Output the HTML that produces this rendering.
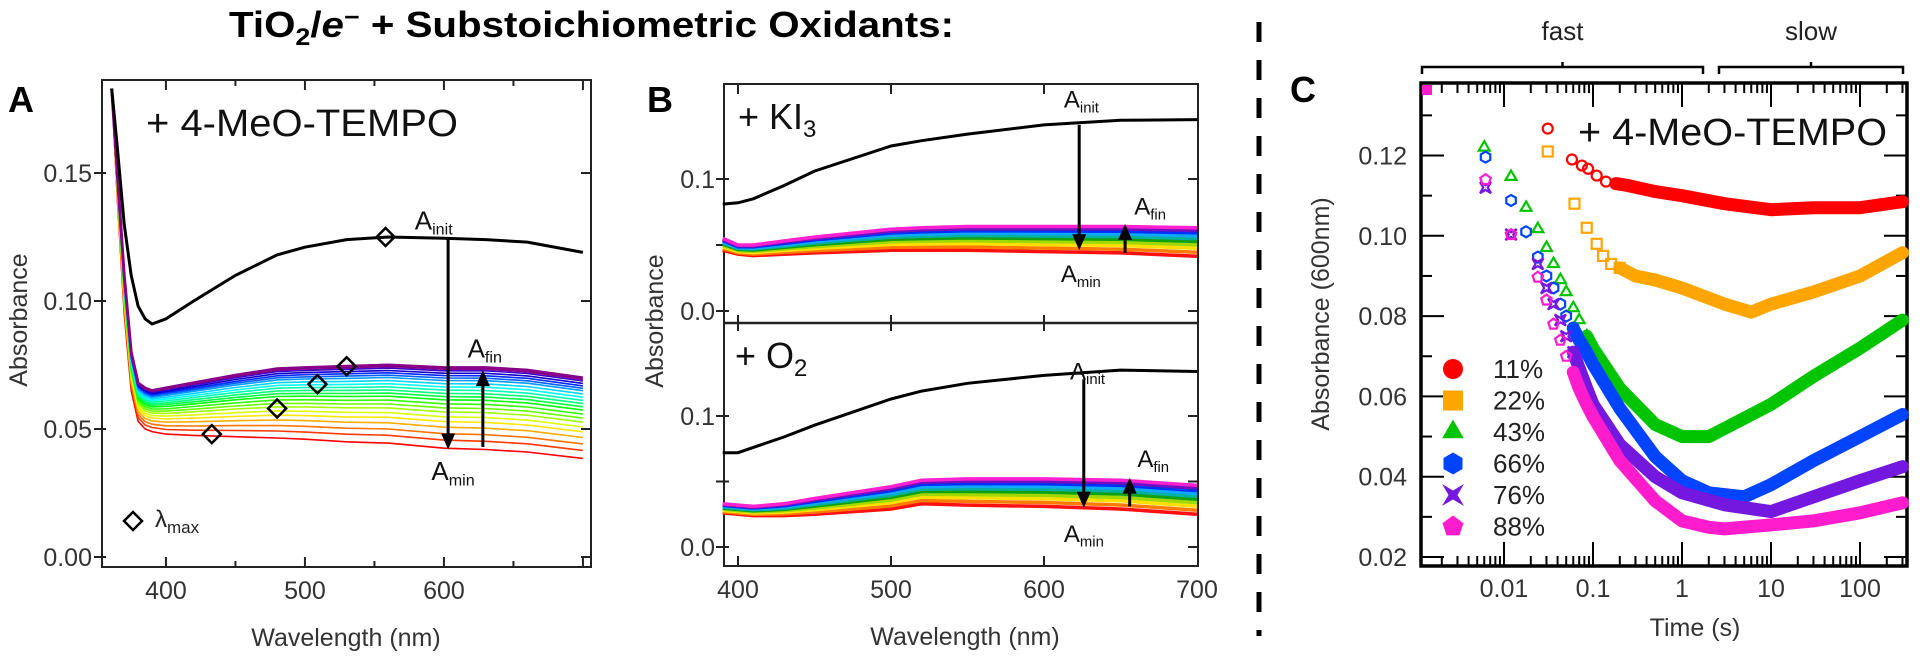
<!DOCTYPE html>
<html><head><meta charset="utf-8"><style>
html,body{margin:0;padding:0;background:#fff;}
svg{display:block;font-family:"Liberation Sans",Arial,sans-serif;}
</style></head><body>
<svg id="fig" width="1920" height="664" viewBox="0 0 1920 664" xmlns="http://www.w3.org/2000/svg">
<text x="229" y="37" font-size="36" font-weight="bold" textLength="725" lengthAdjust="spacingAndGlyphs" font-family="'Liberation Sans Narrow','Liberation Sans',sans-serif">TiO<tspan font-size="24" dy="8">2</tspan><tspan dy="-8">/</tspan><tspan font-style="italic">e</tspan><tspan font-size="24" dy="-12">−</tspan><tspan dy="12"> + Substoichiometric Oxidants:</tspan></text>
<line x1="1259" y1="22" x2="1259" y2="636" stroke="#000" stroke-width="5" stroke-dasharray="20 18"/>
<g id="gA"></g>
<g id="gB"></g>
<g id="gC"></g>
</svg>
<script>
// ---------- Panel A data ----------
const waveA = [361,365,370,375,380,385,390,400,420,450,480,500,530,560,600,630,660,700];
const blackA = [0.183,0.160,0.130,0.110,0.098,0.093,0.091,0.093,0.100,0.110,0.118,0.121,0.124,0.125,0.1245,0.124,0.123,0.119];
const topA = [0.183,0.150,0.110,0.080,0.068,0.066,0.065,0.066,0.068,0.071,0.0735,0.074,0.0745,0.075,0.074,0.074,0.073,0.070];
const botA = [0.183,0.140,0.095,0.065,0.053,0.050,0.049,0.048,0.0475,0.047,0.0465,0.046,0.045,0.0445,0.0425,0.042,0.041,0.0385];
const levelsA = [0,0.1,0.18,0.26,0.33,0.39,0.45,0.5,0.55,0.6,0.64,0.68,0.72,0.76,0.8,0.84,0.87,0.9,0.93,0.96,0.98,1];
const diamondWaveA = [558,530,509,480,433];
const diamondValA = [0.125,0.0745,0.0675,0.058,0.048];
// ---------- Panel B data ----------
const waveB = [390,400,410,430,450,500,520,550,600,650,700];
const blackB1 = [0.081,0.082,0.085,0.095,0.106,0.125,0.129,0.134,0.141,0.1445,0.145];
const topB1 = [0.055,0.050,0.050,0.053,0.056,0.062,0.063,0.064,0.064,0.064,0.063];
const botB1 = [0.046,0.043,0.042,0.043,0.044,0.046,0.046,0.046,0.045,0.044,0.0415];
const blackB2 = [0.072,0.072,0.076,0.084,0.093,0.113,0.119,0.125,0.131,0.135,0.134];
const topB2 = [0.033,0.032,0.031,0.033,0.037,0.046,0.051,0.052,0.052,0.051,0.047];
const botB2 = [0.026,0.025,0.024,0.024,0.025,0.029,0.033,0.032,0.031,0.029,0.025];
const levelsB = [0,0.14,0.28,0.4,0.52,0.62,0.72,0.82,0.91,1];
// ---------- Panel C data ----------
const seriesNames = ["11%","22%","43%","66%","76%","88%"];
const tRed = [0.031,0.058,0.075,0.088,0.11,0.14,0.18,0.25,0.5,1,3,10,30,100,300];
const vRed = [0.1267,0.119,0.1175,0.1167,0.115,0.1135,0.113,0.1125,0.111,0.110,0.108,0.1065,0.107,0.107,0.1085];
const tOrange = [0.031,0.062,0.085,0.11,0.13,0.16,0.2,0.3,0.5,1,3,6,10,30,100,300];
const vOrange = [0.121,0.108,0.102,0.098,0.095,0.093,0.092,0.090,0.089,0.087,0.083,0.081,0.083,0.086,0.090,0.0958];
const tGreen = [0.006,0.012,0.0177,0.024,0.03,0.036,0.043,0.05,0.06,0.07,0.085,0.1,0.2,0.5,1,2,3,10,30,100,300];
const vGreen = [0.122,0.1147,0.107,0.1017,0.097,0.093,0.089,0.086,0.082,0.079,0.075,0.072,0.062,0.053,0.050,0.050,0.052,0.058,0.065,0.072,0.079];
const tBlue = [0.0062,0.012,0.0177,0.024,0.03,0.036,0.043,0.05,0.06,0.07,0.085,0.1,0.2,0.5,1,2,5,10,30,100,300];
const vBlue = [0.1196,0.1088,0.101,0.0947,0.090,0.087,0.083,0.080,0.077,0.074,0.071,0.068,0.057,0.045,0.039,0.036,0.035,0.038,0.044,0.050,0.0555];
const tPurple = [0.0062,0.012,0.024,0.03,0.036,0.043,0.05,0.06,0.07,0.085,0.1,0.2,0.5,1,3,10,30,100,300];
const vPurple = [0.112,0.1003,0.093,0.087,0.083,0.079,0.075,0.071,0.067,0.062,0.058,0.048,0.040,0.036,0.033,0.0313,0.035,0.039,0.0425];
const tMagenta = [0.0062,0.012,0.024,0.03,0.036,0.043,0.05,0.06,0.07,0.085,0.1,0.2,0.5,1,2,3,10,30,100,300];
const vMagenta = [0.114,0.1003,0.0897,0.084,0.078,0.074,0.070,0.066,0.062,0.058,0.055,0.044,0.034,0.029,0.0274,0.027,0.028,0.029,0.031,0.0335];
const yTicksC = [0.02,0.04,0.06,0.08,0.10,0.12];
const xTicksC = [0.01,0.1,1,10,100];
const xTickLabelsC = ["0.01","0.1","1","10","100"];

const NS = "http://www.w3.org/2000/svg";
function mk(tag, attrs, parent){const e=document.createElementNS(NS,tag);for(const k in attrs)e.setAttribute(k,attrs[k]);parent.appendChild(e);return e;}
function pts(xs,ys,fx,fy){return xs.map((x,i)=>fx(x).toFixed(1)+","+fy(ys[i]).toFixed(1)).join(" ");}
function mix(a,b,f){return a.map((v,i)=>v+(b[i]-v)*f);}

// ---------- Panel A ----------
const gA=document.getElementById("gA");
const xA=w=>102+(w-354)*1.39, yA=v=>557-v*2560;
let e;
e=mk("rect",{x:102,y:80,width:489,height:487,fill:"none",stroke:"#222","stroke-width":2},gA);


[400,450,500,550,600,650,700].forEach(w=>{
 const L=(w%100===0)?10:6;
 e=mk("line",{x1:xA(w),y1:567,x2:xA(w),y2:567-L,stroke:"#222","stroke-width":2},gA);
 
 
 e=mk("line",{x1:xA(w),y1:80,x2:xA(w),y2:80+L,stroke:"#222","stroke-width":2},gA);
 
 
});
[400,500,600].forEach(w=>{
 e=mk("text",{x:xA(w),y:599,"font-size":25,"text-anchor":"middle",fill:"#333"},gA);e.textContent=w;
 
 
});
[0,0.05,0.10,0.15].forEach(v=>{
 e=mk("line",{x1:94,y1:yA(v),x2:106,y2:yA(v),stroke:"#222","stroke-width":2},gA);
 
 
 e=mk("line",{x1:581,y1:yA(v),x2:591,y2:yA(v),stroke:"#222","stroke-width":2},gA);
 
 
 e=mk("text",{x:92,y:yA(v)+9,"font-size":25,"text-anchor":"end",fill:"#333"},gA);e.textContent=v.toFixed(2);
 
 
});
e=mk("text",{x:346,y:646,"font-size":25,"text-anchor":"middle",fill:"#333"},gA);e.textContent="Wavelength (nm)";


e=mk("text",{x:0,y:0,"font-size":25,"text-anchor":"middle",fill:"#333",transform:"translate(27,320) rotate(-90)"},gA);e.textContent="Absorbance";


e=mk("text",{x:8,y:112,"font-size":36,"font-weight":"bold"},gA);e.textContent="A";


levelsA.forEach((f,i)=>{
 const n=levelsA.length-1;const h=(i/n)*285;
 const col=i>=n-1?"#880088":`hsl(${h},100%,${i>n-4?40:50}%)`;
 e=mk("polyline",{points:pts(waveA,mix(botA,topA,f),xA,yA),fill:"none",stroke:col,"stroke-width":i===n?3:1.6},gA);
 
 
});
e=mk("polyline",{points:pts(waveA,blackA,xA,yA),fill:"none",stroke:"#000","stroke-width":3},gA);


diamondWaveA.forEach((w,i)=>{
 const cx=xA(w),cy=yA(diamondValA[i]);
 e=mk("polygon",{points:`${cx},${cy-9} ${cx+9},${cy} ${cx},${cy+9} ${cx-9},${cy}`,fill:"none",stroke:"#000","stroke-width":2.5},gA);
 
 
});
function arrow(g,x,y1,y2,name){
 const dir=y2>y1?1:-1;
 e=mk("line",{x1:x,y1:y1,x2:x,y2:y2-dir*14,stroke:"#000","stroke-width":3},g);
 
 
 e=mk("polygon",{points:`${x-7},${y2-dir*16} ${x+7},${y2-dir*16} ${x},${y2}`,fill:"#000"},g);
 
 
}
arrow(gA,xA(603),yA(0.124),yA(0.042),'a-down-arrow');
arrow(gA,xA(628),yA(0.043),yA(0.073),'a-up-arrow');
function alabel(g,x,y,sub,name,fs){
 e=mk("text",{x:x,y:y,"font-size":fs,fill:"#111"},g);
 e.innerHTML=`A<tspan font-size="${fs*0.62}" dy="${fs*0.2}">${sub}</tspan>`;
 
 
}
alabel(gA,xA(579),yA(0.128),"init","a-a-init-label",26);
alabel(gA,xA(617),yA(0.078),"fin","a-a-fin-label",26);
alabel(gA,xA(591),yA(0.030),"min","a-a-min-label",26);
e=mk("text",{x:146,y:136,"font-size":38,fill:"#111",textLength:312,lengthAdjust:"spacingAndGlyphs"},gA);e.textContent="+ 4-MeO-TEMPO";


e=mk("polygon",{points:"133,512 142,521 133,530 124,521",fill:"none",stroke:"#000","stroke-width":2.5},gA);


e=mk("text",{x:155,y:527,"font-size":24,fill:"#222"},gA);e.innerHTML='λ<tspan font-size="17" dy="6">max</tspan>';



// ---------- Panel B ----------
const gB=document.getElementById("gB");
const xB=w=>738+(w-400)*1.53;
const yB1=v=>311-v*1320, yB2=v=>547-v*1310;
e=mk("rect",{x:724,y:84,width:474,height:482,fill:"none",stroke:"#222","stroke-width":2},gB);


e=mk("line",{x1:724,y1:323,x2:1198,y2:323,stroke:"#222","stroke-width":2.5},gB);


[400,500,600].forEach(w=>{
 [[566,-10],[84,10],[323,-8],[323,8]].forEach(([y,d])=>{
  e=mk("line",{x1:xB(w),y1:y,x2:xB(w),y2:y+d,stroke:"#222","stroke-width":2},gB);
  
  
 });
});
[400,500,600,700].forEach(w=>{
 e=mk("text",{x:xB(w),y:598,"font-size":25,"text-anchor":"middle",fill:"#333"},gB);e.textContent=w;
 
 
});
[[yB1,"top"],[yB2,"bottom"]].forEach(([fy,nm])=>{
 [0,0.05,0.1].forEach(v=>{
  e=mk("line",{x1:716,y1:fy(v),x2:729,y2:fy(v),stroke:"#222","stroke-width":2},gB);
  
  
  e=mk("line",{x1:1188,y1:fy(v),x2:1198,y2:fy(v),stroke:"#222","stroke-width":2},gB);
  
  
 });
 [0,0.1].forEach(v=>{
  e=mk("text",{x:715,y:fy(v)+9,"font-size":25,"text-anchor":"end",fill:"#333"},gB);e.textContent=v.toFixed(1);
  
  
 });
});
e=mk("text",{x:965,y:645,"font-size":25,"text-anchor":"middle",fill:"#333"},gB);e.textContent="Wavelength (nm)";


e=mk("text",{x:0,y:0,"font-size":25,"text-anchor":"middle",fill:"#333",transform:"translate(663,321) rotate(-90)"},gB);e.textContent="Absorbance";


e=mk("text",{x:647,y:112,"font-size":36,"font-weight":"bold"},gB);e.textContent="B";


const colsB=["#ff1010","#ff7a00","#ffe000","#a0d800","#10a010","#00b0a0","#10a8ff","#0030ff","#7010c0","#ff20d0"];
[[topB1,botB1,blackB1,yB1,"top"],[topB2,botB2,blackB2,yB2,"bottom"]].forEach(([tp,bt,bk,fy,nm])=>{
 levelsB.forEach((f,i)=>{
  e=mk("polyline",{points:pts(waveB,mix(bt,tp,f),xB,fy),fill:"none",stroke:colsB[i],"stroke-width":3.5},gB);
  
  
 });
 e=mk("polyline",{points:pts(waveB,bk,xB,fy),fill:"none",stroke:"#000","stroke-width":3},gB);
 
 
});
arrow(gB,xB(623),yB1(0.141),yB1(0.046),'b-top-down-arrow');
arrow(gB,xB(653),yB1(0.044),yB1(0.066),'b-top-up-arrow');
arrow(gB,xB(626),yB2(0.128),yB2(0.030),'b-bottom-down-arrow');
arrow(gB,xB(656),yB2(0.031),yB2(0.053),'b-bottom-up-arrow');
alabel(gB,xB(613),yB1(0.154),"init","b-top-a-init-label",24);
alabel(gB,xB(659),yB1(0.073),"fin","b-top-a-fin-label",24);
alabel(gB,xB(611),yB1(0.022),"min","b-top-a-min-label",24);
alabel(gB,xB(617),yB2(0.128),"init","b-bottom-a-init-label",24);
alabel(gB,xB(661),yB2(0.061),"fin","b-bottom-a-fin-label",24);
alabel(gB,xB(613),yB2(0.004),"min","b-bottom-a-min-label",24);
e=mk("text",{x:738,y:129,"font-size":36,fill:"#111"},gB);e.innerHTML='+ KI<tspan font-size="24" dy="8">3</tspan>';


e=mk("text",{x:735,y:368,"font-size":36,fill:"#111"},gB);e.innerHTML='+ O<tspan font-size="24" dy="8">2</tspan>';



// ---------- Panel C ----------
const gC=document.getElementById("gC");
const xC=t=>1682+Math.log10(t)*89, yC=v=>557-(v-0.02)*4015;
const L=1421,R=1907,T=83,B=566;
e=mk("rect",{x:L,y:T,width:R-L,height:B-T,fill:"none",stroke:"#000","stroke-width":3.5},gC);


for(let d=-3;d<=2;d++){for(let m=1;m<=9;m++){
 const t=m*Math.pow(10,d), x=xC(t); if(x<=L+2||x>=R-2) continue;
 const len=m===1?24:10;
 e=mk("line",{x1:x,y1:B,x2:x,y2:B-len,stroke:"#000","stroke-width":2},gC);
 
 
 e=mk("line",{x1:x,y1:T,x2:x,y2:T+len,stroke:"#000","stroke-width":2},gC);
 
 
}}
xTicksC.forEach((t,i)=>{
 e=mk("text",{x:xC(t),y:597,"font-size":25,"text-anchor":"middle",fill:"#333"},gC);e.textContent=xTickLabelsC[i];
 
 
});
for(let k=2;k<=13;k++){
 const v=k/100, y=yC(v), len=k%2===0?23:11;
 e=mk("line",{x1:L,y1:y,x2:L+len,y2:y,stroke:"#000","stroke-width":2},gC);
 
 
 e=mk("line",{x1:R,y1:y,x2:R-len,y2:y,stroke:"#000","stroke-width":2},gC);
 
 
}
yTicksC.forEach(v=>{
 e=mk("text",{x:1407,y:yC(v)+9,"font-size":25,"text-anchor":"end",fill:"#333"},gC);e.textContent=v.toFixed(2);
 
 
});
e=mk("text",{x:1695,y:636,"font-size":25,"text-anchor":"middle",fill:"#333"},gC);e.textContent="Time (s)";


e=mk("text",{x:0,y:0,"font-size":25,"text-anchor":"middle",fill:"#333",transform:"translate(1329,314) rotate(-90)"},gC);e.textContent="Absorbance (600nm)";


e=mk("text",{x:1290,y:102,"font-size":36,"font-weight":"bold"},gC);e.textContent="C";


[[1422,1703,"fast","fast-bracket"],[1719,1903,"slow","slow-bracket"]].forEach(([a,b,txt,nm])=>{
 e=mk("path",{d:`M${a},74 L${a},67 L${b},67 L${b},74 M${(a+b)/2},67 L${(a+b)/2},62`,fill:"none",stroke:"#000","stroke-width":2.5},gC);
 
 
 e=mk("text",{x:(a+b)/2,y:40,"font-size":26,"text-anchor":"middle",fill:"#222"},gC);e.textContent=txt;
 
 
});
e=mk("text",{x:1578,y:145,"font-size":38,fill:"#111",textLength:309,lengthAdjust:"spacingAndGlyphs"},gC);e.textContent="+ 4-MeO-TEMPO";


function shape(g,kind,cx,cy,r,col,filled,name){
 let el;
 const fill=filled?col:"none", sw=filled?0:2.2;
 const poly=(n,rot,rr)=>{let p=[];for(let i=0;i<n;i++){const a=rot+i*2*Math.PI/n;p.push((cx+rr*Math.cos(a)).toFixed(1)+","+(cy+rr*Math.sin(a)).toFixed(1));}return p.join(" ");};
 if(kind==="circle") el=mk("circle",{cx:cx,cy:cy,r:r,fill:fill,stroke:col,"stroke-width":sw},g);
 else if(kind==="square") el=mk("rect",{x:cx-r,y:cy-r,width:2*r,height:2*r,fill:fill,stroke:col,"stroke-width":sw},g);
 else if(kind==="triangle") el=mk("polygon",{points:poly(3,-Math.PI/2,r*1.25),fill:fill,stroke:col,"stroke-width":sw},g);
 else if(kind==="hexagon") el=mk("polygon",{points:poly(6,-Math.PI/2,r*1.1),fill:fill,stroke:col,"stroke-width":sw},g);
 else if(kind==="pentagon") el=mk("polygon",{points:poly(5,-Math.PI/2,r*1.1),fill:fill,stroke:col,"stroke-width":sw},g);
 else { const q=r*1.1,s=r*0.45; el=mk("polygon",{points:`${cx-q},${cy-q} ${cx},${cy-s} ${cx+q},${cy-q} ${cx+s},${cy} ${cx+q},${cy+q} ${cx},${cy+s} ${cx-q},${cy+q} ${cx-s},${cy}`,fill:fill,stroke:col,"stroke-width":sw},g); }
 
 
}
const seriesC=[
 [tRed,vRed,"#ff0000","circle",0.2],
 [tOrange,vOrange,"#ffa500","square",0.25],
 [tGreen,vGreen,"#00c400","triangle",0.09],
 [tBlue,vBlue,"#0044ff","hexagon",0.07],
 [tPurple,vPurple,"#7418e0","star",0.07],
 [tMagenta,vMagenta,"#ff1ccc","pentagon",0.07]
];
seriesC.forEach(([ts,vs,col,kind,cut],si)=>{
 const bi=Math.max(0,ts.findIndex(t=>t>=cut)-1);
 e=mk("polyline",{points:pts(ts.slice(bi),vs.slice(bi),xC,yC),fill:"none",stroke:col,"stroke-width":13,"stroke-linejoin":"round","stroke-linecap":"round"},gC);
 
 
 ts.forEach((t,i)=>{ if(t<cut) shape(gC,kind,xC(t),yC(vs[i]),5,col,false,'c-data-point-'+seriesNames[si]); });
});
shape(gC,"square",1427,90,5,"#ff1ccc",true,'c-corner-marker');
seriesC.forEach(([ts,vs,col,kind],i)=>{
 const cy=369+i*31.5;
 shape(gC,kind,1453,cy,10,col,true,'c-legend-marker');
 e=mk("text",{x:1493,y:cy+9,"font-size":26,fill:"#222"},gC);e.textContent=seriesNames[i];
 
 
});
</script>
</body></html>
